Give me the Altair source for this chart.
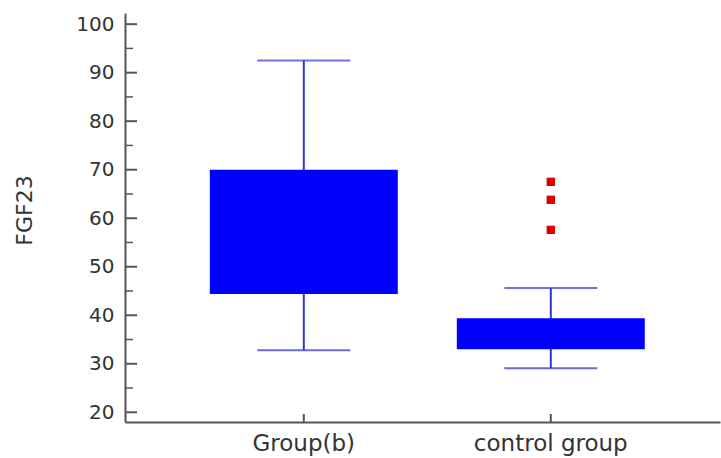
import altair as alt
import pandas as pd

# ---- data ----
groups = ["Group(b)", "control group"]
upper_whisker = [92.5, 45.6]
q3 = [70.0, 39.4]
q1 = [44.4, 33.0]
lower_whisker = [32.8, 29.1]

outlier_group = ["control group", "control group", "control group"]
outlier_values = [67.5, 63.8, 57.6]

y_major = [20, 30, 40, 50, 60, 70, 80, 90, 100]
y_minor = [25, 35, 45, 55, 65, 75, 85, 95]

box_df = pd.DataFrame({"group": groups, "lower": lower_whisker, "q1": q1,
                       "q3": q3, "upper": upper_whisker})
out_df = pd.DataFrame({"group": outlier_group, "value": outlier_values})
major_df = pd.DataFrame({"v": y_major})
minor_df = pd.DataFrame({"v": y_minor})
grp_df = pd.DataFrame({"group": groups})

FONT = "DejaVu Sans"
AX = "#555555"
W, H = 595, 409

xscale = alt.Scale(domain=groups, paddingInner=0.239, paddingOuter=0.324, align=0.53)
yscale = alt.Scale(domain=[18, 102.3], nice=False, zero=False)

x_axis = alt.Axis(title=None, labelAngle=0, ticks=False, grid=False,
                  domainColor=AX, domainWidth=2, labelFont=FONT, labelFontSize=23,
                  labelColor="#333333", labelPadding=10)
y_axis = alt.Axis(title="FGF23", values=y_major, ticks=False, grid=False,
                  domainColor=AX, domainWidth=2, labelFont=FONT, labelFontSize=20,
                  labelColor="#333333", labelPadding=11,
                  titleFont=FONT, titleFontSize=22, titleFontWeight="normal",
                  titleColor="#333333", titleAngle=270, titleAlign="center",
                  titleBaseline="middle", titleX=-101, titleY=197)


def X(field="group"):
    return alt.X(f"{field}:N", scale=xscale, sort=groups, axis=x_axis)


def Y(field):
    return alt.Y(f"{field}:Q", scale=yscale, axis=y_axis)


whisker = alt.Chart(box_df).mark_rule(color="#3333dd", strokeWidth=2).encode(
    x=X(), y=Y("lower"), y2="upper:Q")

box = alt.Chart(box_df).mark_bar(color="#0000ff").encode(
    x=X(), y=Y("q1"), y2="q3:Q")

cap_low = alt.Chart(box_df).mark_tick(color="#2b2bc8", size=93, thickness=2).encode(
    x=X(), y=Y("lower"))
cap_up = alt.Chart(box_df).mark_tick(color="#3333dd", size=93, thickness=2).encode(
    x=X(), y=Y("upper"))

outliers = alt.Chart(out_df).mark_square(color="#dd0000", size=70, opacity=1).encode(
    x=X(), y=Y("value"))

major_ticks = alt.Chart(major_df).mark_rule(color=AX, strokeWidth=2).encode(
    x=alt.value(0), x2=alt.value(12), y=Y("v"))
minor_ticks = alt.Chart(minor_df).mark_rule(color=AX, strokeWidth=1.5).encode(
    x=alt.value(0), x2=alt.value(8), y=Y("v"))

x_ticks = alt.Chart(grp_df).mark_rule(color=AX, strokeWidth=2).encode(
    x=X(), y=alt.value(H - 8), y2=alt.value(H))

chart = alt.layer(
    whisker, box, cap_low, cap_up, outliers, major_ticks, minor_ticks, x_ticks
).properties(
    width=W, height=H,
    autosize=alt.AutoSizeParams(type="none"),
    padding={"left": 125, "top": 13, "right": 1, "bottom": 36},
    background="white",
).configure_view(stroke=None)

chart.save("out.html", embed_options={"renderer": "svg", "actions": False})
